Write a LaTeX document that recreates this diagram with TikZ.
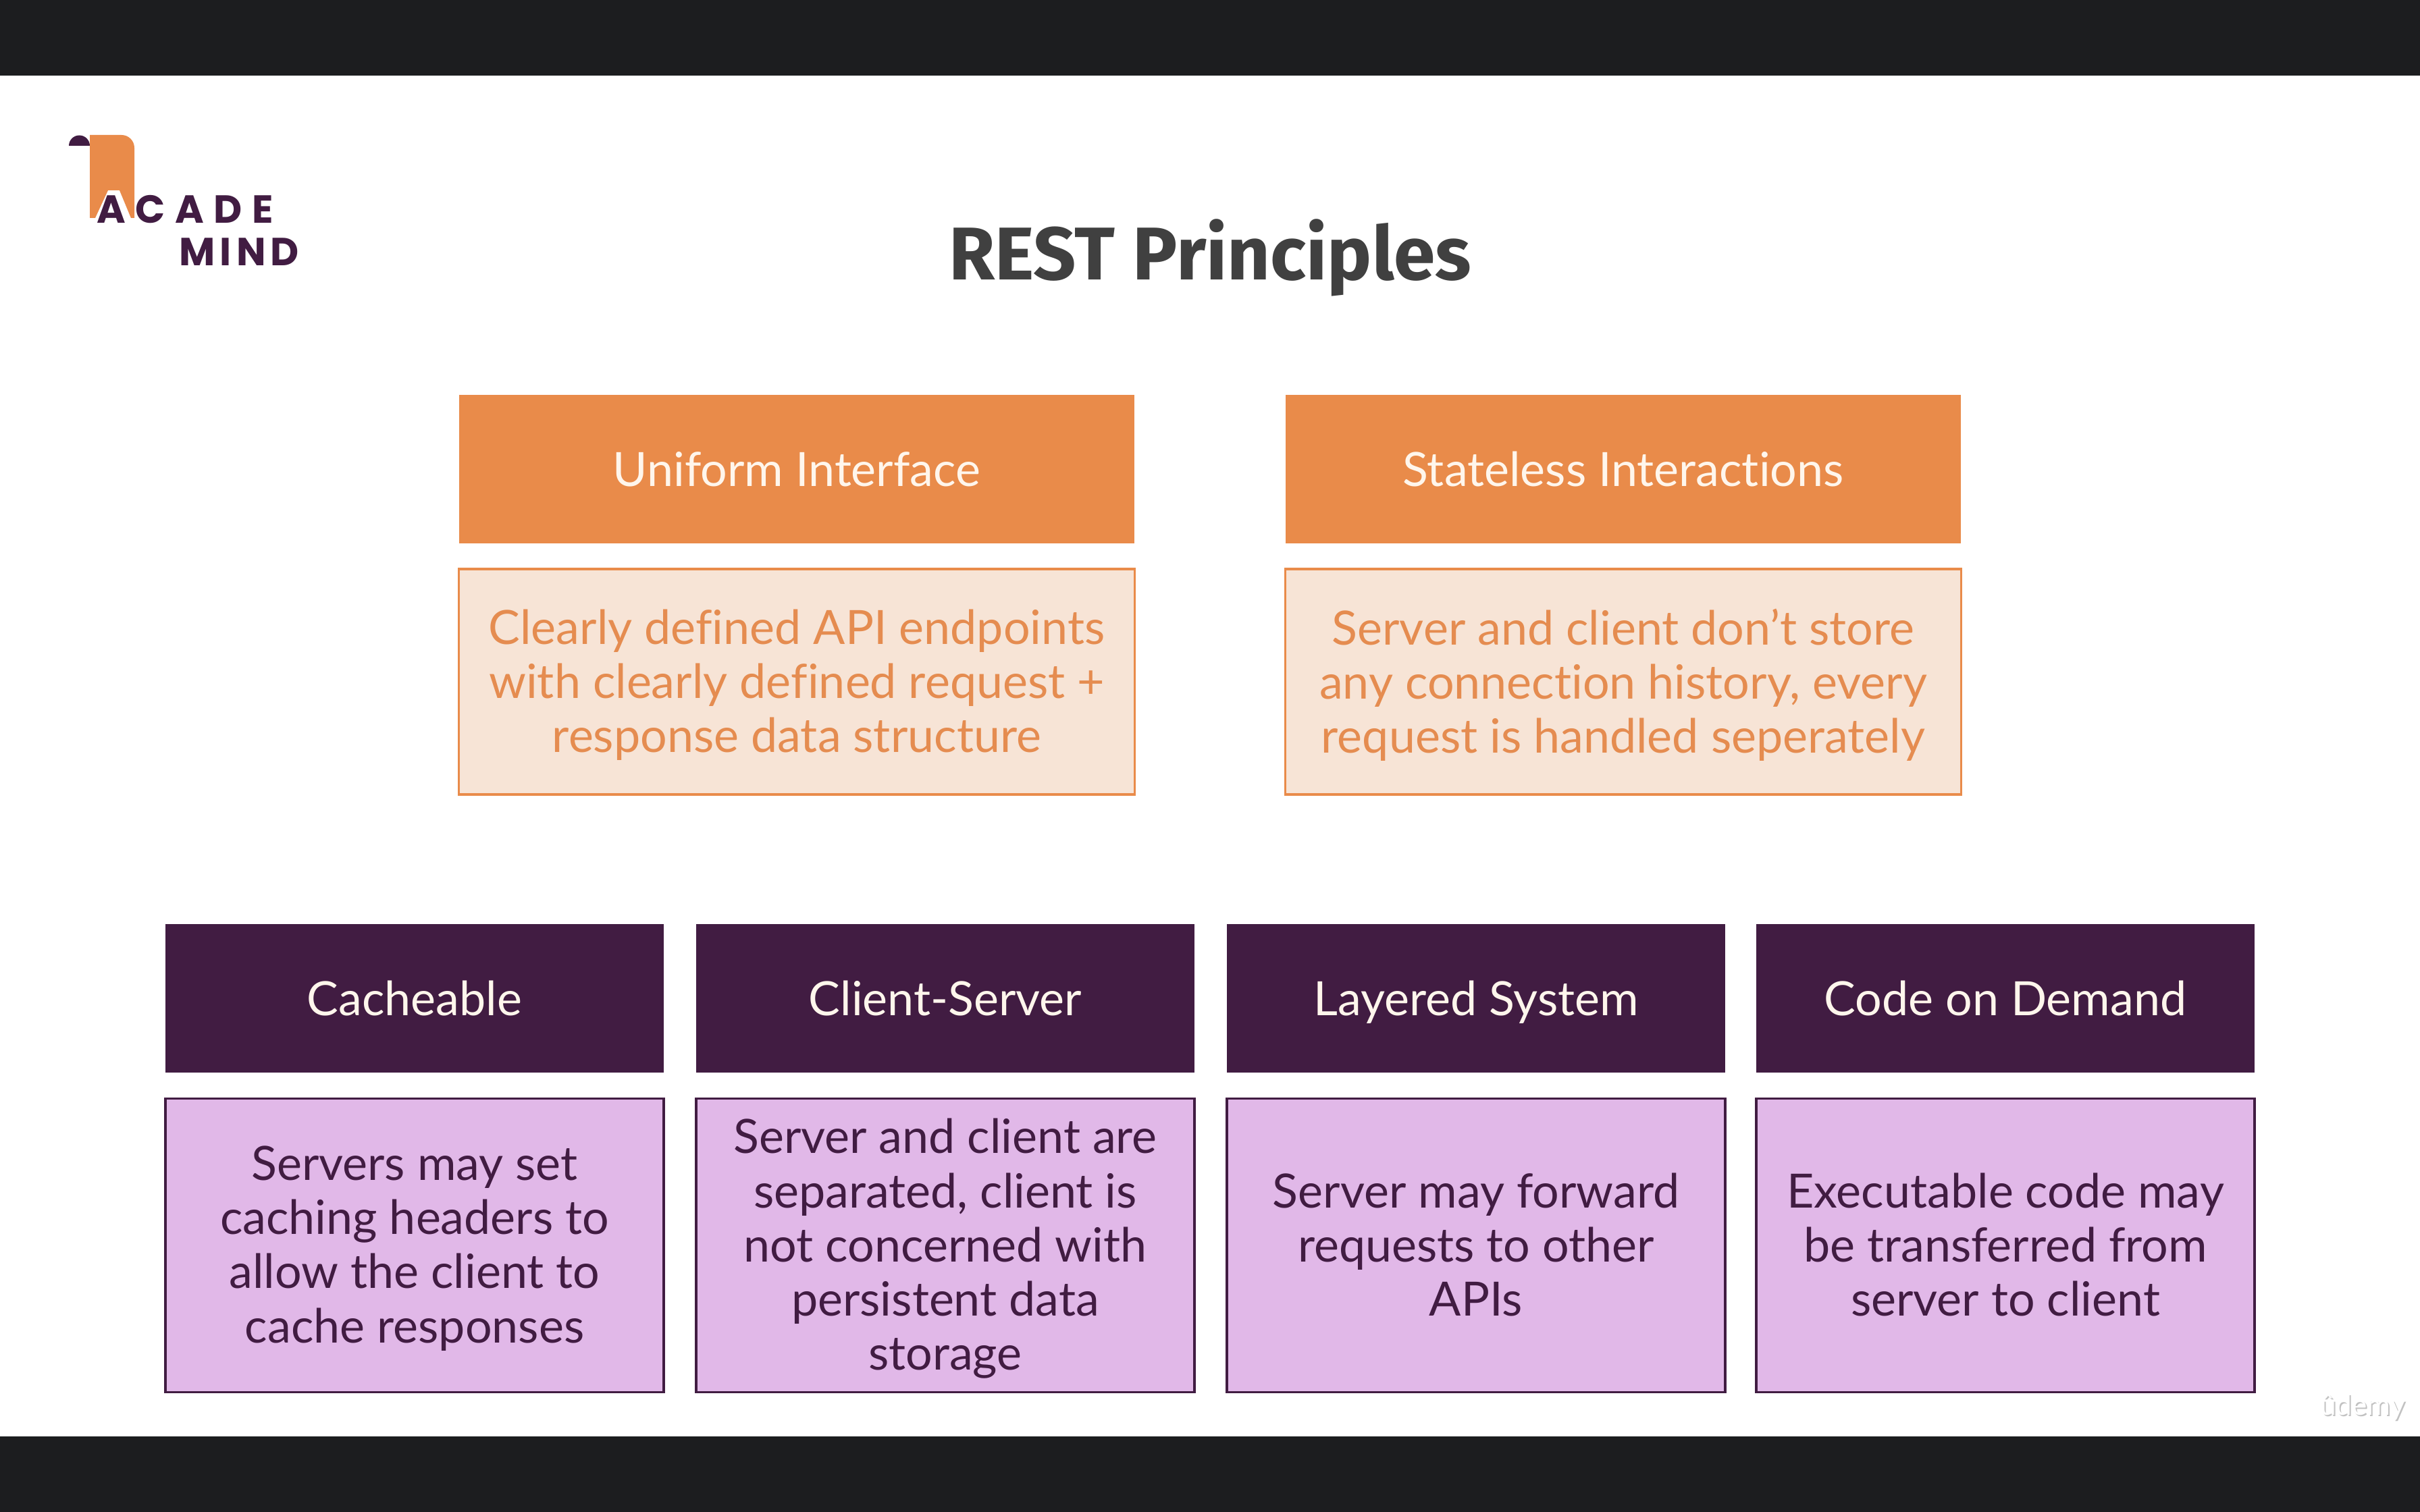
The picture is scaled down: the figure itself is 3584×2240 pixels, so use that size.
\documentclass[tikz,border=0pt]{standalone}
\usepackage{tikz}
\usepackage{xcolor}
\usepackage{fontspec}
\setmainfont[Ligatures=NoCommon]{Lato}
\newfontfamily\titlefont{Fira Sans}
\newfontfamily\logofont[LetterSpace=25]{Poppins}
\newfontfamily\logofontb[LetterSpace=12]{Poppins}
\definecolor{barcol}{HTML}{1C1D1F}
\definecolor{orangecol}{HTML}{E98B4A}
\definecolor{orangelight}{HTML}{F7E4D6}
\definecolor{orangetext}{HTML}{E58C50}
\definecolor{purplecol}{HTML}{411C42}
\definecolor{purplelight}{HTML}{E1B8E8}
\definecolor{headtext}{HTML}{FFF6EC}
\definecolor{titlecol}{HTML}{404040}
\begin{document}
\begin{tikzpicture}[x=0.01cm,y=0.01cm]
\tikzstyle{every node}+=[inner sep=0pt,align=center,font=\fontsize{19.9}{22.8}\selectfont]
\tikzstyle{orangehead}=[fill=orangecol,text=headtext,text depth=0cm,minimum width=10cm,minimum height=2.2cm]
\tikzstyle{orangebody}=[draw=orangecol,line width=1pt,fill=orangelight,text=orangetext,text depth=0.03cm,minimum width=10cm,minimum height=3.34cm]
\tikzstyle{purplehead}=[fill=purplecol,text=headtext,text depth=0cm,minimum width=7.38cm,minimum height=2.2cm]
\tikzstyle{purplebody}=[draw=purplecol,line width=1pt,fill=purplelight,text=purplecol,text depth=0.03cm,minimum width=7.38cm,minimum height=4.35cm]
\useasboundingbox (0,0) rectangle (3584,-2240);
\fill [white] (0,0) rectangle (3584,-2240);
\fill [barcol] (0,0) rectangle (3584,-112);
\fill [barcol] (0,-2128) rectangle (3584,-2240);
% logo
\fill [orangecol] (133,-200) -- (180,-200) arc (90:0:19) -- (199,-323) -- (194,-323) -- (177,-282) -- (160,-282) -- (141,-323) -- (133,-323) -- cycle;
\fill [purplecol] (102,-216) arc (180:0:15.5) -- cycle;
\draw (143,-310) node [anchor=west,text=purplecol,font=\logofont\fontsize{16.5}{16.5}\bfseries] (logoacade) {ACADE};
\draw (265,-373) node [anchor=west,text=purplecol,font=\logofontb\fontsize{16.5}{16.5}\bfseries] (logomind) {MIND};
% title
\draw (1792,-382) node [text=titlecol,font=\titlefont\fontsize{31.5}{36}\bfseries] (title) {REST Principles};
% top row
\draw (1180,-695) node [orangehead] (uniform) {Uniform Interface};
\draw (1180,-1010) node [orangebody] (uniformtext) {Clearly defined API endpoints\\with clearly defined request +\\response data structure};
\draw (2404,-695) node [orangehead] (stateless) {Stateless Interactions};
\draw (2404,-1010) node [orangebody] (statelesstext) {Server and client don’t store\\any connection history, every\\request is handled seperately};
% bottom row
\draw (614,-1479) node [purplehead] (cache) {Cacheable};
\draw (614,-1845) node [purplebody] (cachetext) {Servers may set\\caching headers to\\allow the client to\\cache responses};
\draw (1400,-1479) node [purplehead] (client) {Client-Server};
\draw (1400,-1845) node [purplebody] (clienttext) {Server and client are\\separated, client is\\not concerned with\\persistent data\\storage};
\draw (2186,-1479) node [purplehead] (layered) {Layered System};
\draw (2186,-1845) node [purplebody] (layeredtext) {Server may forward\\requests to other\\APIs};
\draw (2970,-1479) node [purplehead] (code) {Code on Demand};
\draw (2970,-1845) node [purplebody] (codetext) {Executable code may\\be transferred from\\server to client};
% watermark
\draw (3501,-2087) node [text=black!24,font=\fontsize{12}{12}\selectfont] (udemyshade) {ûdemy};
\draw (3499,-2085) node [text=white,font=\fontsize{12}{12}\selectfont] (udemy) {ûdemy};
\end{tikzpicture}
\end{document}
